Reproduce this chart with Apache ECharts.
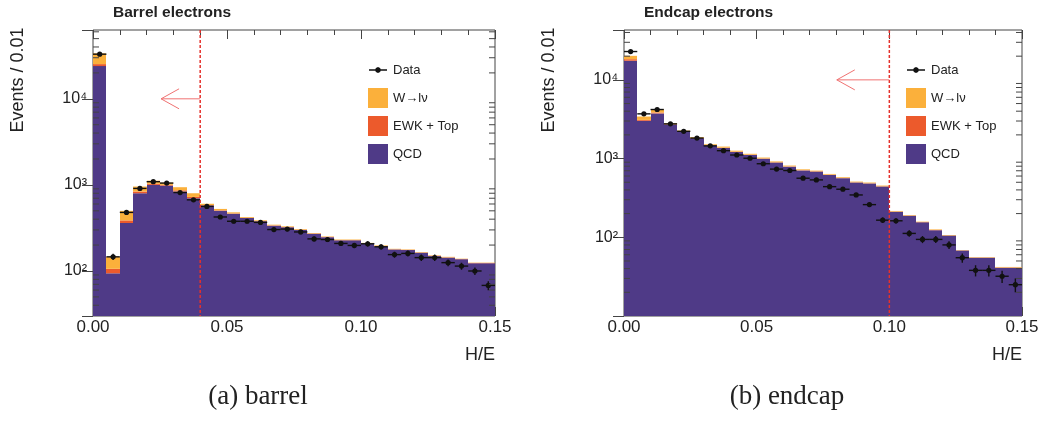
<!DOCTYPE html>
<html>
<head>
<meta charset="utf-8">
<script src="https://cdn.jsdelivr.net/npm/echarts@6/dist/echarts.min.js"></script>
<style>
  html, body { margin: 0; padding: 0; background: #fff; }
  #chart { width: 1052px; height: 423px; }
</style>
</head>
<body>
<div id="chart"></div>
<script>
// binning: 30 bins of 0.005 in H/E
const binWidth = 0.005
const nBins = 30
const xTicks = [0, 0.05, 0.10, 0.15]

// barrel electrons
const barrelData = [33000, 146, 479, 910, 1090, 1050, 815, 671, 563, 424, 378, 378, 367, 303, 307, 284, 236, 232, 209, 198, 207, 191, 155, 160, 143, 143, 125, 114, 100, 68]
const barrelQCD  = [24000, 94, 361, 800, 1000, 980, 840, 700, 577, 500, 462, 412, 378, 336, 322, 300, 270, 247, 227, 227, 208, 194, 178, 175, 163, 149, 143, 137, 123, 123]
const barrelEWK  = [1300, 12, 26, 37, 30, 20, 25, 25, 7, 6, 4, 3, 3, 3, 2, 2, 2, 2, 1, 1, 1, 1, 1, 1, 1, 1, 1, 1, 1, 1]
const barrelW    = [8400, 40, 113, 120, 90, 60, 75, 75, 20, 20, 14, 9, 7, 6, 6, 5, 4, 3, 4, 4, 3, 3, 2, 2, 2, 2, 2, 1, 1, 1]

// endcap electrons
const endcapData = [22900, 3700, 4200, 2760, 2220, 1820, 1450, 1260, 1110, 1010, 860, 735, 705, 563, 536, 440, 408, 345, 260, 165, 162, 112, 94, 94, 80, 55, 38, 38, 32, 25]
const endcapQCD  = [17500, 3020, 3750, 2700, 2190, 1810, 1470, 1360, 1210, 1110, 995, 890, 790, 708, 683, 620, 564, 497, 483, 442, 211, 188, 155, 123, 105, 68, 55, 55, 41, 41]
const endcapEWK  = [800, 80, 100, 30, 20, 15, 12, 15, 12, 10, 8, 7, 6, 5, 5, 4, 4, 3, 3, 3, 1, 1, 1, 1, 0.5, 0.3, 0.3, 0.3, 0.3, 0.3]
const endcapW    = [1900, 320, 400, 80, 60, 45, 38, 45, 38, 30, 27, 23, 19, 17, 15, 14, 12, 10, 10, 9, 4, 3, 2, 2, 1.5, 0.7, 0.7, 0.7, 0.7, 0.7]

// cut values and arrows [cut, arrow tip, arrow height]
const barrelCut = [0.04, 0.0254, 10000]
const endcapCut = [0.10, 0.0802, 10000]

const names = { data: 'Data', w: 'W→lν', ewk: 'EWK + Top', qcd: 'QCD' }
const colors = { data: '#111111', w: '#fbb03b', ewk: '#ec5a2c', qcd: '#4f3a87' }
const font = 'Liberation Sans, Arial, sans-serif'

const panels = [
  { title: 'Barrel electrons', caption: '(a) barrel', data: barrelData, qcd: barrelQCD, ewk: barrelEWK, w: barrelW,
    cut: barrelCut, yMin: 30, yMax: 63000, grid: { left: 93, top: 30, width: 402, height: 286 }, legendLeft: 368, captionX: 258 },
  { title: 'Endcap electrons', caption: '(b) endcap', data: endcapData, qcd: endcapQCD, ewk: endcapEWK, w: endcapW,
    cut: endcapCut, yMin: 10, yMax: 43000, grid: { left: 624, top: 30, width: 398, height: 286 }, legendLeft: 906, captionX: 787 }
]

const sup = { 1: '¹', 2: '²', 3: '³', 4: '⁴' }

// log minor ticks 2..9 x 10^k
const minorTicks = (lo, hi) => {
  const out = []
  for (let k = 0; k < 6; k++) {
    for (let m = 2; m <= 9; m++) {
      const v = m * Math.pow(10, k)
      if (v > lo && v < hi) out.push([0, v])
    }
  }
  return out
}

const renderRect = (params, api) => {
  const a = api.coord([api.value(0), api.value(3)])
  const b = api.coord([api.value(1), api.value(2)])
  const c = api.visual('color')
  const x = Math.round(a[0]), w = Math.round(b[0]) - x
  return {
    type: 'rect',
    shape: { x: x, y: a[1], width: w, height: b[1] - a[1] },
    style: { fill: c }
  }
}

const renderData = (params, api) => {
  const x0 = api.value(0), x1 = api.value(1), n = api.value(2)
  const xm = (x0 + x1) / 2
  const err = Math.sqrt(n)
  const l = api.coord([x0, n]), r = api.coord([x1, n])
  const up = api.coord([xm, n + err]), dn = api.coord([xm, n - err])
  const st = { stroke: '#111', lineWidth: 1.4 }
  return {
    type: 'group',
    children: [
      { type: 'line', shape: { x1: l[0], y1: l[1], x2: r[0], y2: r[1] }, style: st },
      { type: 'line', shape: { x1: up[0], y1: up[1], x2: dn[0], y2: dn[1] }, style: st },
      { type: 'circle', shape: { cx: (l[0] + r[0]) / 2, cy: l[1], r: 2.6 }, style: { fill: '#111' } }
    ]
  }
}

const renderCut = (params, api) => {
  const cut = api.value(0), tip = api.value(1), ay = api.value(2)
  const top = api.coord([cut, api.value(4)])
  const bot = api.coord([cut, api.value(3)])
  const a0 = api.coord([cut, ay]), a1 = api.coord([tip, ay])
  const arrow = { stroke: '#f07272', lineWidth: 1, fill: 'none' }
  return {
    type: 'group',
    children: [
      { type: 'line', shape: { x1: top[0], y1: top[1], x2: bot[0], y2: bot[1] },
        style: { stroke: '#e5312c', lineWidth: 1.5, lineDash: [3, 2] } },
      { type: 'line', shape: { x1: a0[0], y1: a0[1], x2: a1[0], y2: a1[1] }, style: arrow },
      { type: 'polyline', shape: { points: [[a1[0] + 18, a1[1] - 10], [a1[0], a1[1]], [a1[0] + 18, a1[1] + 10]] }, style: arrow }
    ]
  }
}

const renderTicks = (params, api) => {
  const v = api.value(1)
  const l = api.coord([0, v]), r = api.coord([0.15, v])
  const st = { stroke: '#444', lineWidth: 1 }
  return {
    type: 'group',
    children: [
      { type: 'line', shape: { x1: l[0], y1: l[1], x2: l[0] + 6, y2: l[1] }, style: st },
      { type: 'line', shape: { x1: r[0], y1: r[1], x2: r[0] - 6, y2: r[1] }, style: st }
    ]
  }
}

const dataIcon = 'path://M0,0h0.01v0.01h-0.01z M19.99,19.99h0.01v0.01h-0.01z M1,9.3h18v1.4h-18z M10,7 L12.1,7.9 L13,10 L12.1,12.1 L10,13 L7.9,12.1 L7,10 L7.9,7.9 Z'

const grids = [], xAxes = [], yAxes = [], series = [], legends = [], graphics = []

panels.forEach((p, g) => {
  grids.push(Object.assign({ show: true, borderColor: '#444', borderWidth: 1, backgroundColor: 'transparent' }, p.grid))

  const xBase = {
    type: 'value', gridIndex: g, min: 0, max: 0.15, interval: 0.05,
    axisLine: { show: false }, splitLine: { show: false },
    axisTick: { inside: true, length: 9, lineStyle: { color: '#444' } },
    minorTick: { show: true, splitNumber: 5, length: 5, lineStyle: { color: '#444' } }
  }
  xAxes.push(Object.assign({}, xBase, {
    position: 'bottom',
    axisLabel: { formatter: v => v.toFixed(2), fontSize: 17, color: '#222', margin: 3, fontFamily: font }
  }))
  xAxes.push(Object.assign({}, xBase, { position: 'top', axisLabel: { show: false } }))

  const yBase = {
    type: 'log', logBase: 10, gridIndex: g, min: p.yMin, max: p.yMax,
    axisLine: { show: false }, splitLine: { show: false },
    axisTick: { inside: true, length: 11, lineStyle: { color: '#444' } }
  }
  yAxes.push(Object.assign({}, yBase, {
    position: 'left',
    axisLabel: {
      showMinLabel: false, showMaxLabel: false, fontSize: 16, color: '#222', margin: 6, fontFamily: font,
      formatter: v => {
        const e = Math.round(Math.log10(v))
        return Math.abs(Math.log10(v) - e) < 1e-6 && sup[e] ? '10' + sup[e] : ''
      }
    }
  }))
  yAxes.push(Object.assign({}, yBase, { position: 'right', axisLabel: { show: false } }))

  const xi = 2 * g, yi = 2 * g
  const qcdRows = [], ewkRows = [], wRows = [], dataRows = []
  for (let i = 0; i < nBins; i++) {
    const x0 = i * binWidth, x1 = (i + 1) * binWidth
    const s1 = p.qcd[i], s2 = s1 + p.ewk[i], s3 = s2 + p.w[i]
    qcdRows.push([x0, x1, p.yMin, s1])
    ewkRows.push([x0, x1, s1, s2])
    wRows.push([x0, x1, s2, s3])
    dataRows.push([x0, x1, p.data[i]])
  }
  const hist = (key, rows) => ({
    type: 'custom', name: names[key], xAxisIndex: xi, yAxisIndex: yi, clip: true, z: 2,
    itemStyle: { color: colors[key] }, renderItem: renderRect,
    encode: { x: [0, 1], y: [2, 3] }, data: rows, silent: true
  })
  series.push(hist('qcd', qcdRows), hist('ewk', ewkRows), hist('w', wRows))
  series.push({
    type: 'custom', name: names.data, xAxisIndex: xi, yAxisIndex: yi, clip: true, z: 4,
    itemStyle: { color: colors.data }, renderItem: renderData,
    encode: { x: [0, 1], y: 2 }, data: dataRows, silent: true
  })
  series.push({
    type: 'custom', name: 'cut', xAxisIndex: xi, yAxisIndex: yi, z: 5, silent: true,
    renderItem: renderCut, encode: { x: [0, 1], y: [2, 3, 4] },
    data: [[p.cut[0], p.cut[1], p.cut[2], p.yMin, p.yMax]]
  })
  series.push({
    type: 'custom', name: 'ticks', xAxisIndex: xi, yAxisIndex: yi, z: 6, silent: true,
    renderItem: renderTicks, encode: { x: 0, y: 1 }, data: minorTicks(p.yMin, p.yMax)
  })

  legends.push({
    orient: 'vertical', left: p.legendLeft, top: 60, padding: 0, itemWidth: 20, itemHeight: 20, itemGap: 8,
    selectedMode: false, textStyle: { fontSize: 13, color: '#222', fontFamily: font },
    data: [
      { name: names.data, icon: dataIcon },
      { name: names.w, icon: 'rect' },
      { name: names.ewk, icon: 'rect' },
      { name: names.qcd, icon: 'rect' }
    ]
  })

  const gl = p.grid.left, gr = p.grid.left + p.grid.width
  graphics.push(
    { type: 'text', x: gl + 20, y: 13, style: { text: p.title, fontSize: 15.5, fontWeight: 'bold', fontFamily: font, fill: '#222', align: 'left', verticalAlign: 'middle' } },
    { type: 'text', x: gl - 75, y: 80, rotation: Math.PI / 2, style: { text: 'Events / 0.01', fontSize: 18, fontFamily: font, fill: '#222', align: 'center', verticalAlign: 'middle' } },
    { type: 'text', x: gr, y: 355, style: { text: 'H/E', fontSize: 18, fontFamily: font, fill: '#222', align: 'right', verticalAlign: 'middle' } },
    { type: 'text', x: p.captionX, y: 397, style: { text: p.caption, fontSize: 27, fontFamily: 'Liberation Serif, Times New Roman, serif', fill: '#222', align: 'center', verticalAlign: 'middle' } }
  )
})

const chart = echarts.init(document.getElementById('chart'))
chart.setOption({
  animation: false,
  backgroundColor: '#fff',
  grid: grids,
  xAxis: xAxes,
  yAxis: yAxes,
  legend: legends,
  series: series,
  graphic: graphics
})
</script>
</body>
</html>
